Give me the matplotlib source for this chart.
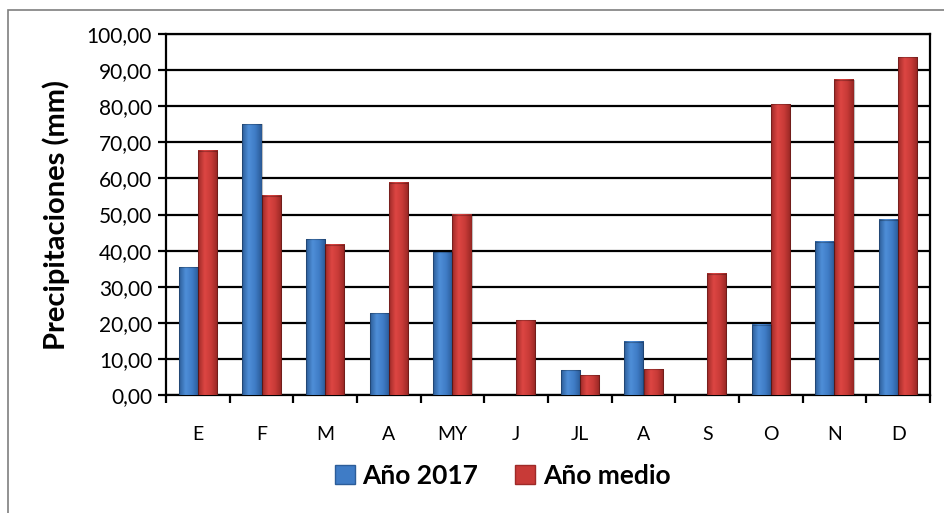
import numpy as np
import matplotlib.pyplot as plt
from matplotlib.colors import LinearSegmentedColormap
from matplotlib.patches import Rectangle, Patch

plt.rcParams['font.family'] = ['Lato', 'DejaVu Sans']

# Datos
meses = ['E', 'F', 'M', 'A', 'MY', 'J', 'JL', 'A', 'S', 'O', 'N', 'D']
anio_2017 = [35.4, 75.0, 43.2, 22.6, 39.6, 0.0, 6.9, 14.7, 0.0, 19.5, 42.5, 48.6]
anio_medio = [67.7, 55.2, 41.6, 58.8, 50.0, 20.7, 5.5, 7.1, 33.6, 80.5, 87.3, 93.6]
y_ticks = np.arange(0, 101, 10)

blue_cmap = LinearSegmentedColormap.from_list(
    'b', ['#2c5d99', '#4f8fd8', '#3f7cc6', '#2a5a96'])
red_cmap = LinearSegmentedColormap.from_list(
    'r', ['#9e2a28', '#dd4643', '#c83a37', '#962623'])

fig = plt.figure(figsize=(9.45, 5.13), dpi=100)
# marco exterior (solo lados superior e izquierdo visibles)
fig.patches.append(Rectangle((8 / 945, -0.2), 1.2, 1.2 - 10 / 513,
                             transform=fig.transFigure, fill=False,
                             edgecolor='#7f7f7f', linewidth=1.2))
ax = fig.add_axes([166 / 945, 1 - 395 / 513, (930 - 166) / 945, (395 - 34) / 513])

x = np.arange(len(meses))
w = 0.3
b1 = ax.bar(x - w / 2, anio_2017, w, color='#3f7cc6', label='Año 2017', zorder=3)
b2 = ax.bar(x + w / 2, anio_medio, w, color='#c83a37', label='Año medio', zorder=3)

# sombreado tipo cilindro
grad = np.linspace(0, 1, 64).reshape(1, -1)
for bars, cmap in ((b1, blue_cmap), (b2, red_cmap)):
    for p in bars:
        h = p.get_height()
        if h <= 0:
            continue
        x0 = p.get_x()
        ax.imshow(grad, extent=[x0, x0 + p.get_width(), 0, h], aspect='auto',
                  cmap=cmap, zorder=4, interpolation='bicubic')
        ax.add_patch(Rectangle((x0, 0), p.get_width(), h, fill=False,
                               edgecolor=(0, 0, 0, 0.25), linewidth=0.8, zorder=5))

ax.set_xlim(-0.5, len(meses) - 0.5)
ax.set_ylim(0, 100)
ax.set_yticks(y_ticks)
ax.set_yticklabels([f'{v:.2f}'.replace('.', ',') for v in y_ticks], fontsize=15)
ax.yaxis.grid(True, color='black', linewidth=1.6, zorder=1)
ax.set_axisbelow(True)

ax.set_xticks(x)
ax.set_xticklabels(meses, fontsize=14)
ax.tick_params(axis='x', length=0, pad=22)
ax.set_xticks(np.arange(-0.5, len(meses)), minor=True)
ax.tick_params(axis='x', which='minor', length=6, width=1.6, direction='out')
ax.tick_params(axis='y', length=6, width=1.6, direction='out', pad=4)

for s in ax.spines.values():
    s.set_linewidth(1.6)
    s.set_color('black')

ax.set_ylabel('Precipitaciones (mm)', fontsize=21, fontweight='bold', labelpad=12)

handles = [Patch(facecolor='#3f7cc6', edgecolor='#2c5d99', label='Año 2017'),
           Patch(facecolor='#c83a37', edgecolor='#9e2a28', label='Año medio')]
fig.legend(handles=handles, loc='center', bbox_to_anchor=(0.532, 1 - 476 / 513),
           ncol=2, frameon=False, prop={'size': 19, 'weight': 'bold'},
           handlelength=0.75, handleheight=0.75, handletextpad=0.3, columnspacing=1.4)

fig.savefig('out.png', dpi=100)
